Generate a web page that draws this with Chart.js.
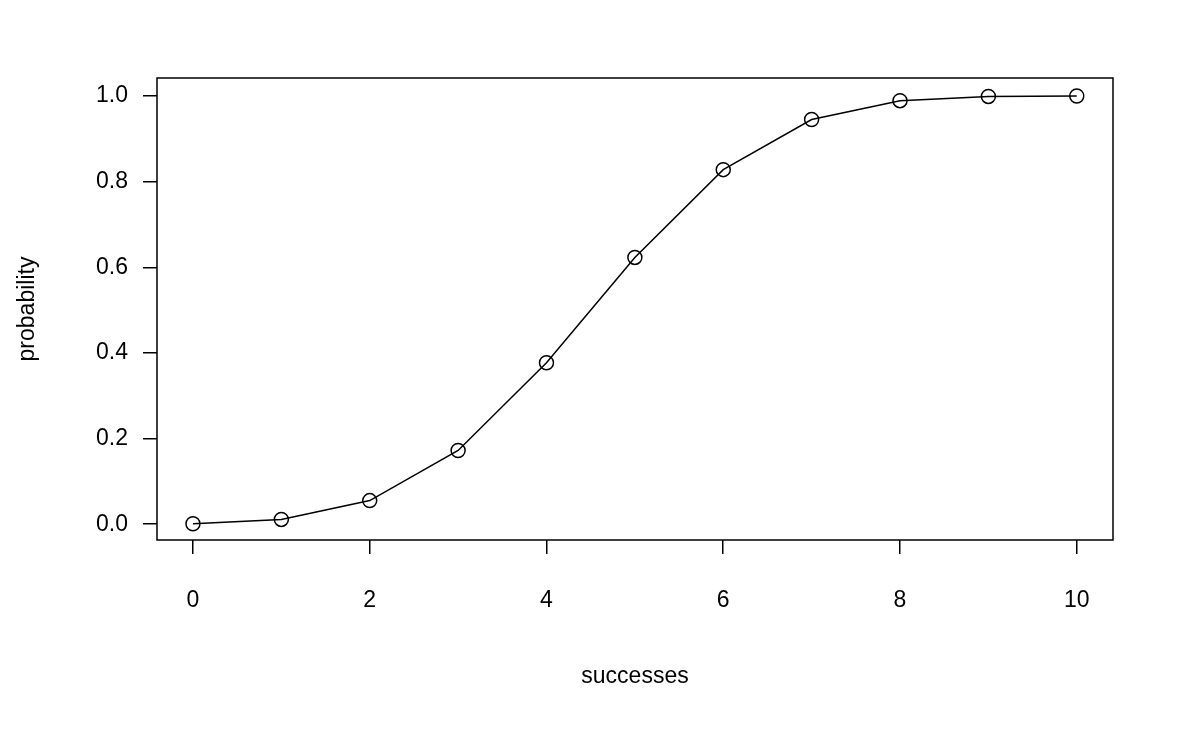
<!DOCTYPE html>
<html>
<head>
<meta charset="utf-8">
<script src="https://cdn.jsdelivr.net/npm/chart.js@4"></script>
<style>
  html, body { margin: 0; padding: 0; background: #fff; }
  #wrap { width: 1194px; height: 737px; }
</style>
</head>
<body>
<div id="wrap"><canvas id="chart"></canvas></div>
<script>
// binomial CDF values
var successes = [0, 1, 2, 3, 4, 5, 6, 7, 8, 9, 10];
var probability = [0.001, 0.011, 0.055, 0.172, 0.377, 0.623, 0.828, 0.945, 0.989, 0.999, 1.0];
var xTicks = [0, 2, 4, 6, 8, 10];
var yTicks = [0.0, 0.2, 0.4, 0.6, 0.8, 1.0];

var points = [];
for (var i = 0; i < successes.length; i++) {
    points.push({ x: successes[i], y: probability[i] });
}

var font = { family: "Liberation Sans, Arial, sans-serif", size: 23 };

// R-style box around the plot region
var boxPlugin = {
    id: 'box',
    afterDraw: function (chart) {
        var a = chart.chartArea, ctx = chart.ctx;
        ctx.save();
        ctx.strokeStyle = '#000';
        ctx.lineWidth = 1.5;
        ctx.strokeRect(a.left, a.top, a.right - a.left, a.bottom - a.top);
        ctx.restore();
    }
};

new Chart(document.getElementById("chart"), {
    type: 'scatter',
    data: {
        datasets: [{
            data: points,
            showLine: true,
            borderColor: '#000',
            borderWidth: 1.5,
            pointRadius: 7,
            pointHoverRadius: 7,
            pointBorderWidth: 1.5,
            pointBorderColor: '#000',
            pointBackgroundColor: 'rgba(0,0,0,0)'
        }]
    },
    options: {
        responsive: true,
        maintainAspectRatio: false,
        animation: false,
        layout: { padding: { top: 78, right: 81, left: 0, bottom: 0 } },
        plugins: { legend: { display: false }, tooltip: { enabled: false } },
        scales: {
            x: {
                type: 'linear',
                min: -0.407,
                max: 10.41,
                afterBuildTicks: function (s) { s.ticks = xTicks.map(function (v) { return { value: v }; }); },
                afterFit: function (s) { s.height = 197; },
                grid: { drawOnChartArea: false, tickLength: 14, color: '#000', lineWidth: 1.5 },
                border: { display: false },
                ticks: { color: '#000', font: font, padding: 33, maxRotation: 0,
                    callback: function (v) { return v; } },
                title: { display: true, text: 'successes', color: '#000', font: font,
                    padding: { top: 0, bottom: 47 } }
            },
            y: {
                type: 'linear',
                min: -0.037,
                max: 1.042,
                afterBuildTicks: function (s) { s.ticks = yTicks.map(function (v) { return { value: v }; }); },
                afterFit: function (s) { s.width = 157; },
                grid: { drawOnChartArea: false, tickLength: 14, color: '#000', lineWidth: 1.5 },
                border: { display: false },
                ticks: { color: '#000', font: font, padding: 15,
                    callback: function (v) { return v.toFixed(1); } },
                title: { display: true, text: 'probability', color: '#000', font: font,
                    padding: { top: 14, bottom: 0 } }
            }
        }
    },
    plugins: [boxPlugin]
});
</script>
</body>
</html>
